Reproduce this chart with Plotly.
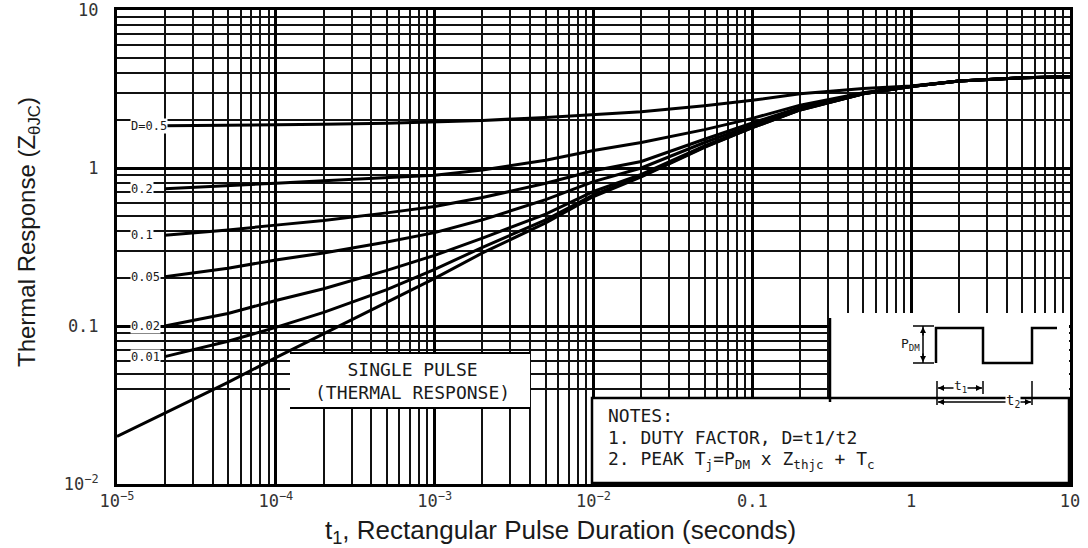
import math
import plotly.graph_objects as go

# ---------------- data ----------------
t_single = [1e-5, 2e-5, 5e-5, 1e-4, 2e-4, 5e-4, 1e-3, 2e-3, 5e-3, 1e-2, 2e-2,
            5e-2, 0.1, 0.2, 0.5, 1, 2, 5, 10]
z_single = [0.020, 0.028, 0.044, 0.063, 0.089, 0.14, 0.20, 0.29, 0.45, 0.66, 0.88,
            1.35, 1.80, 2.33, 2.95, 3.28, 3.55, 3.72, 3.78]

t_duty = [2e-5, 5e-5, 1e-4, 2e-4, 5e-4, 1e-3, 2e-3, 5e-3, 1e-2, 2e-2,
          5e-2, 0.1, 0.2, 0.5, 1, 2, 5, 10]
z_d050 = [1.85, 1.86, 1.87, 1.89, 1.92, 1.95, 2.00, 2.09, 2.17, 2.27,
          2.48, 2.68, 2.95, 3.18, 3.30, 3.55, 3.72, 3.78]
z_d020 = [0.74, 0.77, 0.80, 0.83, 0.865, 0.90, 0.97, 1.12, 1.29, 1.45,
          1.75, 2.06, 2.50, 3.00, 3.29, 3.55, 3.72, 3.78]
z_d010 = [0.375, 0.405, 0.435, 0.465, 0.52, 0.57, 0.65, 0.80, 0.96, 1.10,
          1.52, 1.93, 2.42, 2.98, 3.28, 3.55, 3.72, 3.78]
z_d005 = [0.205, 0.232, 0.262, 0.29, 0.34, 0.39, 0.47, 0.63, 0.82, 1.00,
          1.45, 1.87, 2.37, 2.96, 3.28, 3.55, 3.72, 3.78]
z_d002 = [0.100, 0.120, 0.145, 0.172, 0.225, 0.28, 0.36, 0.51, 0.71, 0.91,
          1.38, 1.82, 2.34, 2.95, 3.28, 3.55, 3.72, 3.78]
z_d001 = [0.064, 0.080, 0.098, 0.122, 0.170, 0.228, 0.315, 0.47, 0.675, 0.89,
          1.36, 1.80, 2.33, 2.95, 3.28, 3.55, 3.72, 3.78]

duty_series = [z_d050, z_d020, z_d010, z_d005, z_d002, z_d001]
duty_labels = ["D=0.5", "0.2", "0.1", "0.05", "0.02", "0.01"]

x_tickvals = [1e-5, 1e-4, 1e-3, 1e-2, 0.1, 1, 10]
x_ticktext = ["10<sup>−5</sup>", "10<sup>−4</sup>", "10<sup>−3</sup>",
              "10<sup>−2</sup>", "0.1", "1", "10"]
y_tickvals = [0.01, 0.1, 1, 10]
y_ticktext = ["10<sup>−2</sup>", "0.1", "1", "10"]

x_title = "t<sub>1</sub>, Rectangular Pulse Duration (seconds)"
y_title = "Thermal Response (Z<sub>θJC</sub>)"

# ---------------- layout geometry ----------------
W_IMG, H_IMG = 1088, 548
L, R, T, B = 117, 1070, 10, 484
PW, PH = R - L, B - T


def px(x):
    return (x - L) / PW


def py(y):
    return (B - y) / PH


MONO = "DejaVu Sans Mono"
SANS = "Liberation Sans, Arial, sans-serif"
INK = "#1a1a1a"

minor_x = [m * 10 ** e for e in range(-5, 1) for m in range(2, 10)]
# the lowest decade of the printed grid only carries lines from 0.04 upward
minor_y = [m * 10 ** e for e in range(-2, 1) for m in range(2, 10) if not (e == -2 and m < 4)]

fig = go.Figure()
for z in duty_series:
    fig.add_trace(go.Scatter(x=t_duty, y=z, mode="lines",
                             line=dict(color="black", width=3),
                             hoverinfo="skip", showlegend=False))
fig.add_trace(go.Scatter(x=t_single, y=z_single, mode="lines",
                         line=dict(color="black", width=3),
                         hoverinfo="skip", showlegend=False))

axis_common = dict(
    type="log", showgrid=True, gridcolor="black", gridwidth=3,
    showline=True, mirror=True, linecolor="black", linewidth=3,
    ticks="", zeroline=False, tickmode="array", automargin=False,
    ticklabeloverflow="allow",
    tickfont=dict(family=MONO, size=17, color="#333"),
)
fig.update_xaxes(**axis_common, range=[-5, 1], tickvals=x_tickvals,
                 ticktext=x_ticktext, ticklabelstandoff=0,
                 minor=dict(tickmode="array", tickvals=minor_x, showgrid=True,
                            gridcolor="#111", gridwidth=1.6, ticks=""))
fig.update_yaxes(**axis_common, range=[-2, 1], tickvals=y_tickvals,
                 ticktext=y_ticktext, ticklabelstandoff=12,
                 minor=dict(tickmode="array", tickvals=minor_y, showgrid=True,
                            gridcolor="#111", gridwidth=1.6, ticks=""))

shapes = []
annotations = []


def note(x, y, text, size, xanchor="center", yanchor="middle", family=MONO, **kw):
    d = dict(xref="paper", yref="paper", x=px(x), y=py(y), text=text, showarrow=False,
             xanchor=xanchor, yanchor=yanchor, font=dict(family=family, size=size, color=INK))
    d.update(kw)
    return d


# duty-factor labels at the start of each curve
for z, lab in zip(duty_series, duty_labels):
    annotations.append(dict(x=math.log10(1.2e-5), y=math.log10(z[0]), xref="x", yref="y",
                            text=lab, showarrow=False, xanchor="left", yanchor="middle",
                            font=dict(family=MONO, size=12, color=INK),
                            bgcolor="white", borderpad=0))


def box(x0, y0, x1, y1, lw=0):
    return dict(type="rect", xref="paper", yref="paper", layer="above",
                x0=px(x0), x1=px(x1), y0=py(y1), y1=py(y0),
                fillcolor="white", line=dict(color="black", width=lw))


def seg(x0, y0, x1, y1, width=1.5):
    return dict(type="line", xref="paper", yref="paper", layer="above",
                x0=px(x0), x1=px(x1), y0=py(y0), y1=py(y1),
                line=dict(color="black", width=width))


# white boxes (drawn above the grid)
shapes.append(box(290, 353, 530, 408, 0))            # single pulse
shapes.append(seg(290, 353, 530, 353, 2))
shapes.append(seg(290, 408, 530, 408, 2))
shapes.append(box(830, 313, 1069, 398, 0))            # pulse diagram
shapes.append(box(592, 398, 1069, 483, 2.5))          # notes
shapes.append(seg(830, 402, 830, 318, 2.5))

annotations.append(note(412, 381, "SINGLE PULSE<br>(THERMAL RESPONSE)", 18, align="center"))

notes = ["NOTES:",
         "1. DUTY FACTOR, D=t1/t2",
         "2. PEAK T<sub>j</sub>=P<sub>DM</sub> x Z<sub>thjc</sub> + T<sub>c</sub>"]
for i, line in enumerate(notes):
    annotations.append(note(606, 415 + 22.5 * i, line, 18, xanchor="left"))

# pulse waveform
wave = [(936, 363), (936, 328), (983, 328), (983, 363), (1032, 363), (1032, 328), (1057, 328)]
path = "M " + " L ".join(f"{px(a):.5f},{py(b):.5f}" for a, b in wave)
shapes.append(dict(type="path", xref="paper", yref="paper", layer="above", path=path,
                   line=dict(color="black", width=2.5)))

shapes += [seg(913, 326, 934, 326), seg(913, 363, 934, 363), seg(923, 326, 923, 363)]
shapes += [seg(937, 381, 937, 405), seg(983, 381, 983, 394), seg(1032, 381, 1032, 405)]
shapes += [seg(938, 388, 982, 388), seg(938, 402, 1031, 402)]


def arrow(x, y, ax, ay):
    return dict(xref="paper", yref="paper", x=px(x), y=py(y), ax=ax, ay=ay, text="",
                showarrow=True, arrowhead=2, arrowsize=0.8, arrowwidth=1.5,
                arrowcolor="black")


annotations += [arrow(923, 327, 0, 10), arrow(923, 362, 0, -10),
                arrow(938, 388, 8, 0), arrow(982, 388, -8, 0),
                arrow(938, 402, 8, 0), arrow(1031, 402, -8, 0)]

annotations.append(note(921, 344, "P<sub>DM</sub>", 13, xanchor="right",
                        bgcolor="white", borderpad=0))
annotations.append(note(960, 386, "t<sub>1</sub>", 13, bgcolor="white", borderpad=0))
annotations.append(note(1013, 401, "t<sub>2</sub>", 14, bgcolor="white", borderpad=0))

# axis titles
annotations.append(note(560, 531, x_title, 26, family=SANS))
annotations.append(note(28, 232, y_title, 24, family=SANS, textangle=-90))

fig.update_layout(
    width=W_IMG, height=H_IMG,
    margin=dict(l=L, r=W_IMG - R, t=T, b=H_IMG - B, autoexpand=False),
    paper_bgcolor="white", plot_bgcolor="white",
    showlegend=False, shapes=shapes, annotations=annotations,
)

fig.write_html("out.html", config={"displayModeBar": False},
               post_script="document.body.style.margin='0';document.body.style.overflow='hidden';")
